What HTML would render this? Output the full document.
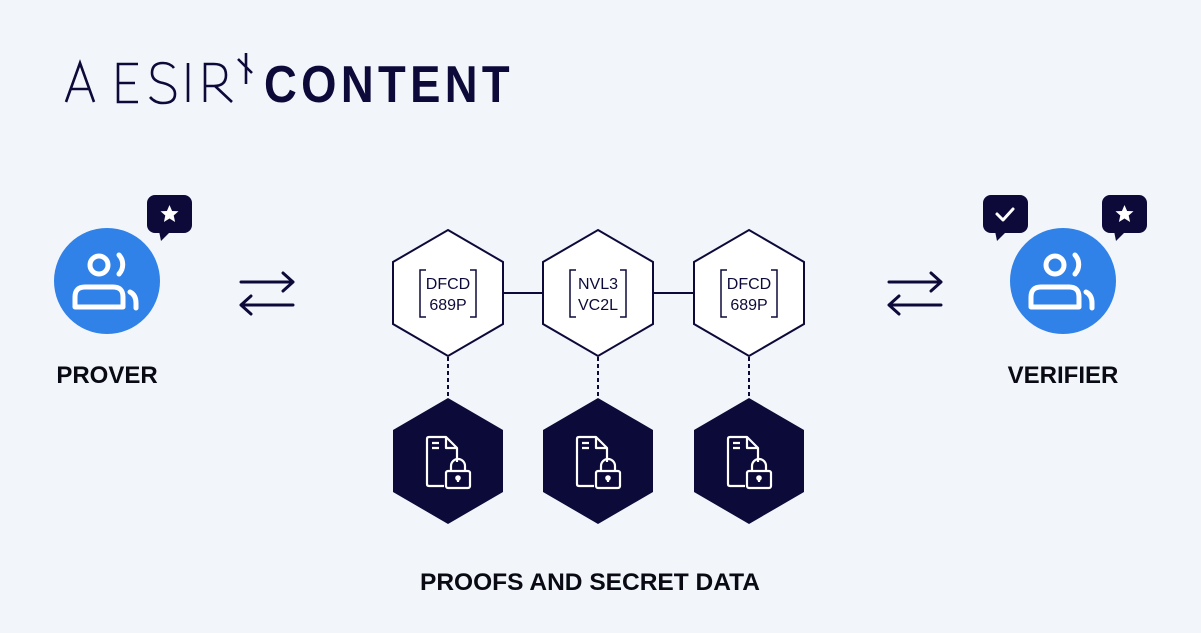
<!DOCTYPE html>
<html><head><style>
body{margin:0;width:1201px;height:628px;background:#f2f6fb;overflow:hidden;font-family:"Liberation Sans",sans-serif;}
</style></head><body>
<svg width="1201" height="628" viewBox="0 0 1201 628" xmlns="http://www.w3.org/2000/svg">
<rect width="1201" height="628" fill="#f2f6fb"/>
<!-- logo -->
<g fill="none" stroke="#0d0a3a" stroke-width="2.6" stroke-linejoin="miter">
<path d="M66 102 L80 63 L94 102 M71 89 L89 89"/>
<path d="M138 64 L118 64 L118 102 L138 102 M118 83 L135 83"/>
<path d="M174 68 Q170 63 163 63 Q152 63 152 73 Q152 81 163 83 Q175 86 175 94 Q175 103 163 103 Q155 103 150 97"/>
<path d="M188 63 L188 102"/>
<path d="M205 102 L205 64 L214 64 Q226 64 226 75 Q226 86 214 86 L205 86 M215 86 L232 102"/>
<path d="M238 59 L252 73 M246 53 L246 84"/>
</g>
<text x="264" y="102" font-family="Liberation Sans" font-size="52" font-weight="bold" fill="#0d0a3a" letter-spacing="5" textLength="250" lengthAdjust="spacingAndGlyphs">CONTENT</text>

<defs>
<g id="user">
<circle cx="0" cy="0" r="53" fill="#3182e8"/>
<circle cx="-8" cy="-16" r="9" fill="none" stroke="#fff" stroke-width="5"/>
<path d="M12 -26 A14 14 0 0 1 12 -7" fill="none" stroke="#fff" stroke-width="5" stroke-linecap="round"/>
<path d="M-32 26 L-32 16 Q-32 6 -22 6 L6 6 Q16 6 16 16 L16 26 Z" fill="none" stroke="#fff" stroke-width="5" stroke-linejoin="round"/>
<path d="M23 11 Q29 14 29 22 L29 27" fill="none" stroke="#fff" stroke-width="5" stroke-linecap="round"/>
</g>
<g id="bub">
<rect x="0" y="0" width="45" height="38" rx="8" fill="#0d0a3a"/>
<path d="M12 36 L14 46 L24 36 Z" fill="#0d0a3a"/>
</g>
<polygon id="star" points="0,-9 2.6,-3 9,-2.8 4.2,1.5 5.6,8 0,4.5 -5.6,8 -4.2,1.5 -9,-2.8 -2.6,-3" fill="#fff"/>
<g id="arr" stroke="#0d0a3a" stroke-width="3" fill="none" stroke-linecap="round" stroke-linejoin="round">
<path d="M0 0 L52 0 M42 -9 L52 0 L42 9"/>
<path d="M52 23 L0 23 M10 14 L0 23 L10 32"/>
</g>
<polygon id="hex" points="0,-63 55,-31 55,31 0,63 -55,31 -55,-31"/>
<g id="doc" fill="none" stroke="#fff" stroke-width="2.2" stroke-linejoin="round">
<path d="M-4 25 L-19 25 Q-21 25 -21 23 L-21 -22 Q-21 -24 -19 -24 L-2 -24 L9 -13 L9 1"/>
<path d="M-2 -24 L-2 -13 L9 -13"/>
<path d="M-16 -18 L-9 -18 M-16 -13 L-9 -13"/>
<rect x="-2" y="10" width="24" height="17" rx="2"/>
<path d="M3 10 L3 5 A7 7 0 0 1 17 5 L17 10"/>
<circle cx="10" cy="17" r="1.7" fill="#fff"/>
<path d="M10 18 L10 21"/>
</g>
</defs>

<!-- prover -->
<use href="#user" x="107" y="281"/>
<use href="#bub" x="147" y="195"/>
<use href="#star" x="169.5" y="214"/>
<text x="107" y="383" text-anchor="middle" font-size="24" font-weight="bold" fill="#0a0a14">PROVER</text>
<use href="#arr" x="241" y="282"/>

<!-- verifier -->
<use href="#user" x="1063" y="281"/>
<use href="#bub" x="983" y="195"/>
<path d="M997 214 L1003 220 L1013 209" stroke="#fff" stroke-width="3" fill="none" stroke-linecap="round" stroke-linejoin="round"/>
<use href="#bub" x="1102" y="195"/>
<use href="#star" x="1124.5" y="214"/>
<text x="1063" y="383" text-anchor="middle" font-size="24" font-weight="bold" fill="#0a0a14">VERIFIER</text>
<use href="#arr" x="889" y="282"/>

<!-- connectors -->
<line x1="503" y1="293" x2="543" y2="293" stroke="#0d0a3a" stroke-width="2"/>
<line x1="653" y1="293" x2="694" y2="293" stroke="#0d0a3a" stroke-width="2"/>
<g stroke="#0d0a3a" stroke-width="2" stroke-dasharray="4,3">
<line x1="448" y1="357" x2="448" y2="398"/>
<line x1="598" y1="357" x2="598" y2="398"/>
<line x1="749" y1="357" x2="749" y2="398"/>
</g>

<!-- hexes -->
<g fill="#fff" stroke="#0d0a3a" stroke-width="2">
<use href="#hex" x="448" y="293"/>
<use href="#hex" x="598" y="293"/>
<use href="#hex" x="749" y="293"/>
</g>
<g fill="#0b0a38">
<use href="#hex" x="448" y="461"/>
<use href="#hex" x="598" y="461"/>
<use href="#hex" x="749" y="461"/>
</g>
<g fill="none" stroke="#0d0a3a" stroke-width="1.5">
<path d="M426 270 L420 270 L420 317 L426 317 M470 270 L476 270 L476 317 L470 317"/>
<path d="M576 270 L570 270 L570 317 L576 317 M620 270 L626 270 L626 317 L620 317"/>
<path d="M727 270 L721 270 L721 317 L727 317 M771 270 L777 270 L777 317 L771 317"/>
</g>
<g font-size="16" fill="#0d0a3a" text-anchor="middle">
<text x="448" y="289">DFCD</text><text x="448" y="310">689P</text>
<text x="598" y="289">NVL3</text><text x="598" y="310">VC2L</text>
<text x="749" y="289">DFCD</text><text x="749" y="310">689P</text>
</g>
<use href="#doc" x="448" y="461"/>
<use href="#doc" x="598" y="461"/>
<use href="#doc" x="749" y="461"/>

<text x="590" y="590" text-anchor="middle" font-size="24" font-weight="bold" fill="#0a0a14" textLength="340" lengthAdjust="spacingAndGlyphs">PROOFS AND SECRET DATA</text>
</svg>
</body></html>
